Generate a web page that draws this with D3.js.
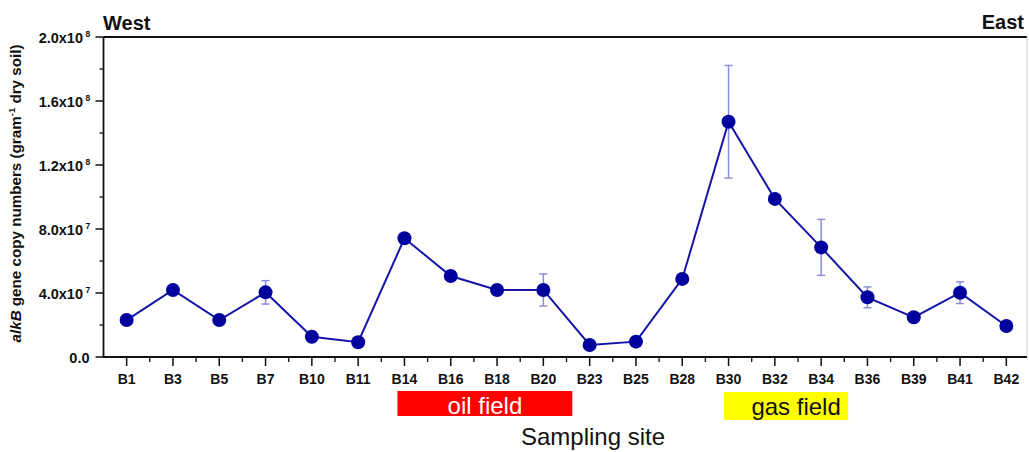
<!DOCTYPE html>
<html>
<head>
<meta charset="utf-8">
<script src="https://cdn.jsdelivr.net/npm/d3@7"></script>
<style>
html,body{margin:0;padding:0;background:#fff;}
svg{display:block;font-family:"Liberation Sans",Arial,sans-serif;}
</style>
</head>
<body>
<svg id="chart" width="1029" height="452"></svg>
<script>
const sites = ["B1","B3","B5","B7","B10","B11","B14","B16","B18","B20","B23","B25","B28","B30","B32","B34","B36","B39","B41","B42"];
const values = [2.31e7,4.19e7,2.31e7,4.04e7,1.27e7,9.2e6,7.42e7,5.06e7,4.19e7,4.19e7,7.5e6,9.6e6,4.88e7,1.47e8,9.88e7,6.85e7,3.73e7,2.48e7,4.02e7,1.94e7];
const errors = [0,0,0,7.3e6,0,0,0,0,0,1.0e7,0,0,0,3.52e7,0,1.75e7,6.5e6,0,6.8e6,0];
const yTicks = [0,4e7,8e7,1.2e8,1.6e8,2e8];
const yTickMantissa = ["0.0","4.0","8.0","1.2","1.6","2.0"];
const yTickExponent = ["","7","7","8","8","8"];
const yMinorTicks = [2e7,6e7,1e8,1.4e8,1.8e8];
const regions = [{label:"oil field", from:"B14", to:"B20"},{label:"gas field", from:"B30", to:"B34"}];

const svg = d3.select("#chart");
const pLeft = 103.5, pRight = 1029.5, pTop = 37, pBottom = 357;

const x = d3.scalePoint().domain(sites).range([pLeft, pRight]).padding(0.5);
const y = d3.scaleLinear().domain([0, 2e8]).range([pBottom, pTop]);
const step = x.step();

// frame
svg.append("line").attr("x1", pLeft).attr("x2", 1027).attr("y1", pTop).attr("y2", pTop)
  .attr("stroke", "#111").attr("stroke-width", 1.8);
svg.append("line").attr("x1", 1027).attr("x2", 1027).attr("y1", pTop).attr("y2", pBottom)
  .attr("stroke", "#ccc").attr("stroke-width", 1);

// y axis
const yAxis = svg.append("g").attr("transform", `translate(${pLeft},0)`);
yAxis.append("line").attr("x1", 0).attr("x2", 0).attr("y1", pTop).attr("y2", pBottom + 1)
  .attr("stroke", "#111").attr("stroke-width", 1.8);
yAxis.selectAll(".maj").data(yTicks).join("line")
  .attr("x1", -8).attr("x2", 0).attr("y1", d => y(d)).attr("y2", d => y(d))
  .attr("stroke", "#111").attr("stroke-width", 1.5);
yAxis.selectAll(".min").data(yMinorTicks).join("line")
  .attr("x1", -4).attr("x2", 0).attr("y1", d => y(d)).attr("y2", d => y(d))
  .attr("stroke", "#111").attr("stroke-width", 1.3);
yAxis.selectAll(".lab").data(yTicks).join("text")
  .attr("x", (d,i) => yTickExponent[i] ? -20.5 : -14)
  .attr("y", d => y(d) + 5.5)
  .attr("text-anchor", "end")
  .attr("font-size", 14.5).attr("font-weight", "bold").attr("fill", "#111")
  .text((d,i) => yTickExponent[i] ? yTickMantissa[i] + "x10" : yTickMantissa[i]);
yAxis.selectAll(".exp").data(yTicks.filter((d,i)=>yTickExponent[i])).join("text")
  .attr("x", -18).attr("y", d => y(d) - 0.5)
  .attr("font-size", 8.5).attr("font-weight", "bold").attr("fill", "#111")
  .text(d => yTickExponent[yTicks.indexOf(d)]);

// x axis
const xAxis = svg.append("g").attr("transform", `translate(0,${pBottom})`);
xAxis.append("line").attr("x1", pLeft - 1).attr("x2", 1027).attr("y1", 0).attr("y2", 0)
  .attr("stroke", "#111").attr("stroke-width", 1.8);
xAxis.selectAll(".maj").data(sites).join("line")
  .attr("x1", d => x(d)).attr("x2", d => x(d)).attr("y1", 0).attr("y2", 9)
  .attr("stroke", "#111").attr("stroke-width", 1.5);
xAxis.selectAll(".min").data(sites.slice(1)).join("line")
  .attr("x1", d => x(d) - step/2).attr("x2", d => x(d) - step/2).attr("y1", 0).attr("y2", 5)
  .attr("stroke", "#111").attr("stroke-width", 1.3);
xAxis.selectAll(".lab").data(sites).join("text")
  .attr("x", d => x(d)).attr("y", 27)
  .attr("text-anchor", "middle").attr("font-size", 14).attr("font-weight", "bold").attr("fill", "#111")
  .text(d => d);

// error bars
const eb = svg.append("g").attr("stroke", "#8c8cdc").attr("stroke-width", 1.5);
const withErr = sites.map((s,i)=>({s, v: values[i], e: errors[i]})).filter(d => d.e > 0);
eb.selectAll(".v").data(withErr).join("line")
  .attr("x1", d => x(d.s)).attr("x2", d => x(d.s))
  .attr("y1", d => y(d.v - d.e)).attr("y2", d => y(d.v + d.e));
eb.selectAll(".t").data(withErr).join("line")
  .attr("x1", d => x(d.s) - 4).attr("x2", d => x(d.s) + 4)
  .attr("y1", d => y(d.v + d.e)).attr("y2", d => y(d.v + d.e));
eb.selectAll(".b").data(withErr).join("line")
  .attr("x1", d => x(d.s) - 4).attr("x2", d => x(d.s) + 4)
  .attr("y1", d => y(d.v - d.e)).attr("y2", d => y(d.v - d.e));

// line
const line = d3.line().x((d,i) => x(sites[i])).y(d => y(d));
svg.append("path").datum(values).attr("d", line)
  .attr("fill", "none").attr("stroke", "#1414a8").attr("stroke-width", 2);

// points
svg.selectAll(".pt").data(values).join("circle")
  .attr("cx", (d,i) => x(sites[i])).attr("cy", d => y(d)).attr("r", 7)
  .attr("fill", "#00009c");

// West / East
svg.append("text").attr("x", 103).attr("y", 29.5).attr("font-size", 20).attr("font-weight", "bold")
  .attr("fill", "#111").text("West");
svg.append("text").attr("x", 1024).attr("y", 29).attr("font-size", 20).attr("font-weight", "bold")
  .attr("text-anchor", "end").attr("fill", "#111").text("East");

// regions
const regStyle = {
  "oil field": {bg: "#ff0000", fg: "#ffffff", dx0: -7, dx1: 29, y0: 391, y1: 416, base: 414, tx: 0},
  "gas field": {bg: "#ffff00", fg: "#111111", dx0: -4.5, dx1: 27, y0: 392, y1: 420, base: 415, tx: 10}
};
regions.forEach(r => {
  const c = regStyle[r.label];
  const x0 = x(r.from) + c.dx0, x1 = x(r.to) + c.dx1;
  svg.append("rect").attr("x", x0).attr("y", c.y0).attr("width", x1 - x0).attr("height", c.y1 - c.y0)
    .attr("fill", c.bg);
  svg.append("text").attr("x", (x0 + x1)/2 + c.tx).attr("y", c.base)
    .attr("text-anchor", "middle").attr("font-size", 24).attr("fill", c.fg).text(r.label);
});

// x title
svg.append("text").attr("x", 593).attr("y", 445).attr("text-anchor", "middle")
  .attr("font-size", 24).attr("fill", "#111").text("Sampling site");

// y title
const yt = svg.append("text").attr("transform", "translate(21,193.5) rotate(-90)")
  .attr("text-anchor", "middle").attr("font-size", 15.2).attr("font-weight", "bold").attr("fill", "#111");
yt.append("tspan").attr("font-style", "italic").text("alkB");
yt.append("tspan").text(" gene copy numbers (gram");
yt.append("tspan").attr("font-size", 9.5).attr("dy", -6).text("-1");
yt.append("tspan").attr("dy", 6).text(" dry soil)");
</script>
</body>
</html>
